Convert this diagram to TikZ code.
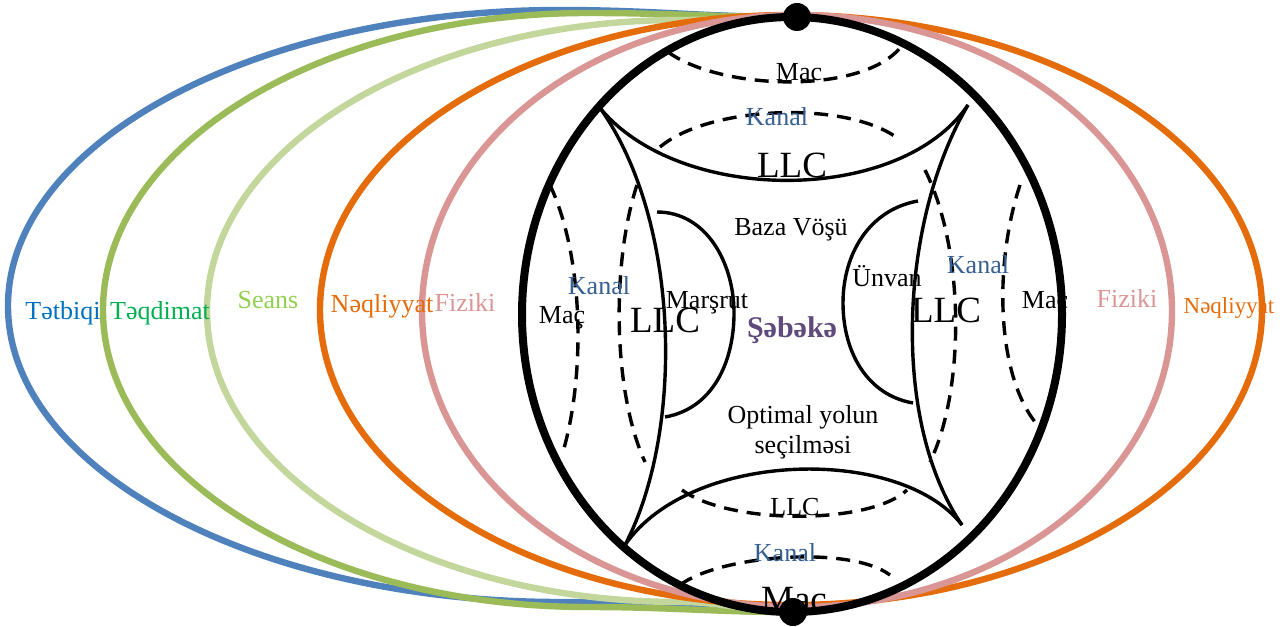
\documentclass[tikz,border=0pt]{standalone}
\usepackage{fontspec}
\setmainfont{Liberation Serif}
\usepackage{tikz}
\definecolor{tbblue}{HTML}{4F81BD}
\definecolor{tqgreen}{HTML}{9BBB59}
\definecolor{snlight}{HTML}{C3D69B}
\definecolor{nqorange}{HTML}{E46C0A}
\definecolor{fzpink}{HTML}{D99694}
\definecolor{kanalblue}{HTML}{376092}
\definecolor{sbpurple}{HTML}{604A7B}
\definecolor{tbtext}{HTML}{0070C0}
\definecolor{tqtext}{HTML}{00B050}
\definecolor{sntext}{HTML}{92D050}

\begin{document}
\begin{tikzpicture}[x=0.5pt,y=-0.5pt,
    layer/.style={line width=3.2pt},
    solidline/.style={line width=1.7pt},
    dashline/.style={line width=1.7pt,dash pattern=on 7pt off 4.5pt},
    txt/.style={font=\fontsize{13}{15}\selectfont,inner sep=0pt},
    bigtxt/.style={font=\fontsize{18.5}{20}\selectfont,inner sep=0pt},
    kanal/.style={txt,text=kanalblue}]
    \useasboundingbox (0,0) rectangle (1284,626);
    \coordinate (top) at (797,17);
    \coordinate (bot) at (793,612);

    \draw[layer,tbblue] (top) to[out=180,in=0] (560,10)
        arc[start angle=270,end angle=90,x radius=552,y radius=296] to[out=0,in=180] (bot);
    \draw[layer,tqgreen] (top) to[out=180,in=0] (588,13)
        arc[start angle=270,end angle=90,x radius=485,y radius=297] to[out=0,in=180] (bot);
    \draw[layer,snlight] (top) to[out=180,in=0] (680,20)
        arc[start angle=270,end angle=90,x radius=473,y radius=291] to[out=0,in=180] (bot);
    \draw[layer,nqorange] (791,310) ellipse[x radius=471,y radius=295];
    \draw[layer,fzpink] (797,311) ellipse[x radius=375,y radius=296];
    \draw[line width=4pt] (792,314.5) ellipse[x radius=270,y radius=297.5];

    \draw[solidline] (600,108) .. controls (680,205) and (900,205) .. (968,105);
    \draw[solidline] (600,108) .. controls (680,220) and (685,430) .. (625,545);
    \draw[solidline] (968,105) .. controls (900,220) and (890,420) .. (962,525);
    \draw[solidline] (625,545) .. controls (690,450) and (900,445) .. (962,525);
    \draw[solidline] (657,212) to[out=0,in=90] (734,313) to[out=-90,in=10] (665,417);
    \draw[solidline] (918,201) to[out=190,in=90] (843,303) to[out=-90,in=170] (913,403);

    \draw[dashline] (668,52) .. controls (720,90) and (860,95) .. (900,48);
    \draw[dashline] (660,147) .. controls (710,105) and (850,100) .. (900,140);
    \draw[dashline] (550,185) .. controls (585,260) and (585,380) .. (562,455);
    \draw[dashline] (637,185) .. controls (612,260) and (612,390) .. (645,462);
    \draw[dashline] (925,170) .. controls (965,250) and (965,390) .. (930,462);
    \draw[dashline] (1020,185) .. controls (995,260) and (995,370) .. (1035,422);
    \draw[dashline] (682,490) .. controls (730,525) and (870,525) .. (907,490);
    \draw[dashline] (680,585) .. controls (720,555) and (850,545) .. (890,575);

    \fill (top) circle[radius=14];
    \fill (bot) circle[radius=14];

    \node[txt] (macT) at (799,72) {Mac};
    \node[kanal] (kanalT) at (777,117) {Kanal};
    \node[bigtxt] (llcT) at (792,165) {LLC};
    \node[txt] (baza) at (791,230) {Baza Vöşü};
    \node[kanal] (kanalL) at (599,286) {Kanal};
    \node[txt] (macL) at (562,318) {Maç};
    \node[bigtxt] (llcL) at (665,320) {LLC};
    \node[txt] (marsrut) at (707,303) {Marşrut};
    \node[txt,font=\fontsize{15}{17}\selectfont\bfseries,text=sbpurple] (sebeke) at (792,330) {Şəbəkə};
    \node[txt] (unvan) at (887,276) {Ünvan};
    \node[kanal] (kanalR) at (978,265) {Kanal};
    \node[bigtxt] (llcR) at (946,310) {LLC};
    \node[txt] (macR) at (1045,300) {Mac};
    \node[txt,align=center] (optimal) at (803,432) {Optimal yolun\\seçilməsi};
    \node[txt] (llcB) at (795,507) {LLC};
    \node[kanal] (kanalB) at (785,553) {Kanal};
    \node[bigtxt] (macB) at (794,600) {Mac};

    \node[txt,text=tbtext] (tetbiqi) at (63,313) {Tətbiqi};
    \node[txt,text=tqtext] (teqdimat) at (160,313) {Təqdimat};
    \node[txt,text=sntext] (seans) at (268,300) {Seans};
    \node[txt,text=nqorange] (neqL) at (382,306) {Nəqliyyat};
    \node[txt,text=fzpink] (fizL) at (465,302) {Fiziki};
    \node[txt,text=fzpink] (fizR) at (1127,298) {Fiziki};
    \node[txt,font=\fontsize{11.5}{13}\selectfont,text=nqorange] (neqR) at (1229,308) {Nəqliyyat};
\end{tikzpicture}
\end{document}
